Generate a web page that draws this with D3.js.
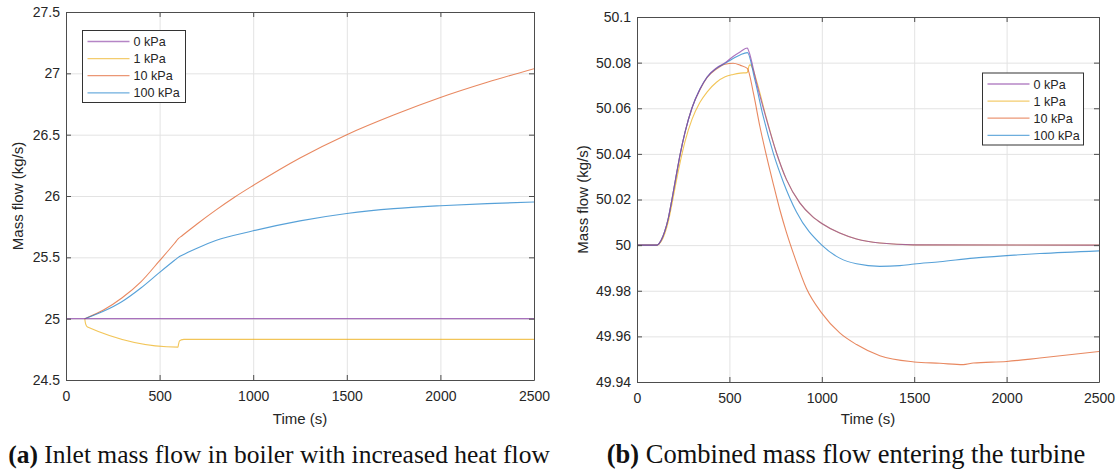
<!DOCTYPE html>
<html lang="en">
<head>
<meta charset="UTF-8">
<title>mass flow</title>
<style>
  body { margin: 0; background: #fff; }
  svg { display: block; }
  .tick text { font-family: "Liberation Sans", Arial, sans-serif; font-size: 14px; fill: #262626; }
</style>
</head>
<body>
<svg id="cont" width="1118" height="475"></svg>
<script src="https://cdn.jsdelivr.net/npm/d3@7"></script>
<script>
// ---- data ----
let seriesNames = ["0 kPa", "1 kPa", "10 kPa", "100 kPa"]
let seriesColors = ["#8E44A8", "#EDB120", "#E0602B", "#1F82CB"]
let xTicks = [0, 500, 1000, 1500, 2000, 2500]

// (a) inlet mass flow in boiler
let yTicksA = [24.5, 25, 25.5, 26, 26.5, 27, 27.5]
let tA0 = [0, 100, 2500]
let mA0 = [25, 25, 25]
let tA1 = [100, 103, 108, 115, 598, 601, 606, 615, 630, 2500]
let mA1 = [25, 24.97, 24.945, 24.932, 24.768, 24.79, 24.818, 24.827, 24.831, 24.831]
let tA10 = [100, 200, 300, 400, 500, 580, 600, 620, 700, 800, 900, 1000, 1250, 1500, 1750, 2000, 2250, 2500]
let mA10 = [25, 25.07, 25.17, 25.3, 25.473, 25.615, 25.652, 25.676, 25.772, 25.885, 25.99, 26.086, 26.31, 26.5, 26.66, 26.803, 26.927, 27.038]
let tA100 = [100, 200, 300, 400, 500, 580, 600, 620, 700, 800, 1000, 1250, 1500, 1750, 2000, 2250, 2500]
let mA100 = [25, 25.06, 25.14, 25.25, 25.377, 25.476, 25.5, 25.517, 25.575, 25.637, 25.716, 25.797, 25.857, 25.897, 25.921, 25.938, 25.951]

// (b) combined mass flow entering the turbine
let yTicksB = [49.94, 49.96, 49.98, 50, 50.02, 50.04, 50.06, 50.08, 50.1]
let tB0 = [0, 108, 130, 150, 170, 189, 210, 234, 260, 297, 340, 380, 430, 477, 520, 560, 597, 605, 647, 701, 755, 809, 881, 950, 1000, 1097, 1188, 1314, 1500, 2500]
let mB0 = [50, 50, 50.002, 50.006, 50.012, 50.02, 50.0295, 50.04, 50.0495, 50.06, 50.0683, 50.0738, 50.0777, 50.08, 50.0827, 50.0848, 50.0864, 50.085, 50.071, 50.055, 50.0404, 50.0287, 50.0185, 50.0125, 50.0095, 50.0053, 50.0027, 50.0009, 50.0001, 50]
let tB1 = [0, 108, 130, 150, 170, 189, 210, 234, 260, 297, 340, 380, 430, 477, 520, 560, 596, 600, 606, 612, 620, 647, 701, 755, 809, 881, 950, 1000, 1097, 1188, 1314, 1500, 2500]
let mB1 = [50, 50, 50.0015, 50.005, 50.0105, 50.018, 50.027, 50.0365, 50.0455, 50.055, 50.0625, 50.0672, 50.0714, 50.0738, 50.0748, 50.0754, 50.0756, 50.0765, 50.0785, 50.079, 50.0785, 50.072, 50.0555, 50.0404, 50.0287, 50.0185, 50.0125, 50.0095, 50.0053, 50.0027, 50.0009, 50.0001, 50]
let tB10 = [0, 108, 130, 150, 170, 189, 210, 234, 260, 297, 340, 380, 430, 477, 520, 560, 597, 630, 665, 701, 737, 773, 809, 850, 917, 1000, 1097, 1188, 1314, 1500, 1639, 1765, 1820, 2000, 2180, 2500]
let mB10 = [50, 50, 50.002, 50.006, 50.012, 50.02, 50.0295, 50.04, 50.0495, 50.06, 50.068, 50.0735, 50.0772, 50.0793, 50.0797, 50.0788, 50.0775, 50.0666, 50.052, 50.039, 50.027, 50.0155, 50.0055, 49.9955, 49.981, 49.9702, 49.9615, 49.9564, 49.9515, 49.9488, 49.9482, 49.9476, 49.9483, 49.949, 49.9505, 49.9534]
let tB100 = [0, 108, 130, 150, 170, 189, 210, 234, 260, 297, 340, 380, 430, 477, 520, 560, 597, 638, 683, 737, 791, 863, 1000, 1097, 1188, 1314, 1422, 1500, 1639, 1820, 2000, 2180, 2500]
let mB100 = [50, 50, 50.002, 50.006, 50.012, 50.02, 50.0295, 50.04, 50.0495, 50.06, 50.0683, 50.0737, 50.0775, 50.0797, 50.0818, 50.0835, 50.0844, 50.0724, 50.0564, 50.0404, 50.0278, 50.0145, 50.0, 49.9943, 49.9918, 49.9907, 49.991, 49.9917, 49.9927, 49.9943, 49.9954, 49.9963, 49.9975]

let svg = d3.select("#cont")
svg.append("rect").attr("width", 1118).attr("height", 475).attr("fill", "#fff")

function zip(t, m) { return t.map((d, i) => ({ t: d, m: m[i] })) }

function panel(opt)
{
	let x = d3.scaleLinear().domain([0, 2500]).range([opt.x0, opt.x1])
	let y = d3.scaleLinear().domain([opt.yTicks[0], opt.yTicks[opt.yTicks.length - 1]]).range([opt.y1, opt.y0])
	let g = svg.append("g")
	let w = opt.x1 - opt.x0, h = opt.y1 - opt.y0

	// grid
	g.append("g").attr("transform", `translate(0,${opt.y1})`)
		.call(d3.axisBottom(x).tickValues(xTicks).tickSize(-h).tickFormat(""))
		.call(s => s.select(".domain").remove())
		.selectAll("line").attr("stroke", "#e3e3e3")
	g.append("g").attr("transform", `translate(${opt.x0},0)`)
		.call(d3.axisLeft(y).tickValues(opt.yTicks).tickSize(-w).tickFormat(""))
		.call(s => s.select(".domain").remove())
		.selectAll("line").attr("stroke", "#e3e3e3")

	// lines
	let line = d3.line().x(d => x(d.t)).y(d => y(d.m)).curve(d3.curveMonotoneX)
	let clip = "clip" + opt.id
	g.append("clipPath").attr("id", clip).append("rect")
		.attr("x", opt.x0).attr("y", opt.y0).attr("width", w).attr("height", h)
	let lines = g.append("g").attr("clip-path", `url(#${clip})`)
	// purple last so it sits on top, like the figure
	;[1, 2, 3, 0].forEach(i => {
		lines.append("path").datum(zip(opt.t[i], opt.m[i]))
			.attr("fill", "none").attr("stroke", seriesColors[i])
			.attr("stroke-width", 1.1).attr("stroke-opacity", 0.75)
			.attr("d", line)
	})

	// axes, ticks inward on all sides
	let axCol = "#4d4d4d"
	let bottom = g.append("g").attr("transform", `translate(0,${opt.y1})`)
		.call(d3.axisBottom(x).tickValues(xTicks).tickSize(-5).tickPadding(11).tickSizeOuter(0)
			.tickFormat(d3.format("d")))
	let left = g.append("g").attr("transform", `translate(${opt.x0},0)`)
		.call(d3.axisLeft(y).tickValues(opt.yTicks).tickSize(-5).tickPadding(6).tickSizeOuter(0)
			.tickFormat(d => d3.format("~g")(d)))
	let top = g.append("g").attr("transform", `translate(0,${opt.y0})`)
		.call(d3.axisTop(x).tickValues(xTicks).tickSize(-5).tickFormat("").tickSizeOuter(0))
	let right = g.append("g").attr("transform", `translate(${opt.x1},0)`)
		.call(d3.axisRight(y).tickValues(opt.yTicks).tickSize(-5).tickFormat("").tickSizeOuter(0))
	;[bottom, left, top, right].forEach(a => {
		a.selectAll("line").attr("stroke", axCol)
		a.select(".domain").attr("stroke", axCol)
		a.attr("font-family", null).attr("font-size", null)
	})

	// axis titles
	g.append("text").attr("x", (opt.x0 + opt.x1) / 2).attr("y", 424)
		.attr("text-anchor", "middle").attr("font-family", "Liberation Sans, Arial, sans-serif")
		.attr("font-size", 15).attr("fill", "#262626").text("Time (s)")
	g.append("text").attr("transform", `translate(${opt.ylabX},${(opt.y0 + opt.y1) / 2}) rotate(-90)`)
		.attr("text-anchor", "middle").attr("dy", "0.35em").attr("font-family", "Liberation Sans, Arial, sans-serif")
		.attr("font-size", 15).attr("fill", "#262626").text("Mass flow (kg/s)")

	// legend
	let lg = g.append("g").attr("transform", `translate(${opt.lx},${opt.ly})`)
	lg.append("rect").attr("width", opt.lw).attr("height", 72)
		.attr("fill", "#fff").attr("stroke", "#333").attr("stroke-width", 1)
	seriesNames.forEach((n, i) => {
		let yy = 11 + i * 17.1
		lg.append("line").attr("x1", 5).attr("x2", 47).attr("y1", yy).attr("y2", yy)
			.attr("stroke", seriesColors[i]).attr("stroke-width", 1.3).attr("stroke-opacity", 0.65)
		lg.append("text").attr("x", 51).attr("y", yy).attr("dy", "0.36em")
			.attr("font-family", "Liberation Sans, Arial, sans-serif").attr("font-size", 12.6)
			.attr("fill", "#262626").text(n)
	})

	// caption
	let cap = svg.append("text").attr("x", opt.capX).attr("y", 463).attr("text-anchor", "middle")
		.attr("font-family", "Liberation Serif, Times New Roman, serif").attr("font-size", opt.capSize).attr("fill", "#111")
	cap.append("tspan").attr("font-weight", "bold").text(opt.capTag)
	cap.append("tspan").text(" " + opt.caption)
}

panel({
	id: "a", x0: 66, x1: 534, y0: 12, y1: 380, yTicks: yTicksA,
	t: [tA0, tA1, tA10, tA100], m: [mA0, mA1, mA10, mA100],
	ylabX: 18, lx: 82.5, ly: 30.5, lw: 103,
	capX: 279, capSize: 25.5, capTag: "(a)", caption: "Inlet mass flow in boiler with increased heat flow"
})
panel({
	id: "b", x0: 637, x1: 1099, y0: 17, y1: 382, yTicks: yTicksB,
	t: [tB0, tB1, tB10, tB100], m: [mB0, mB1, mB10, mB100],
	ylabX: 583, lx: 982.5, ly: 73, lw: 101,
	capX: 846, capSize: 26.5, capTag: "(b)", caption: "Combined mass flow entering the turbine"
})
</script>
</body>
</html>
